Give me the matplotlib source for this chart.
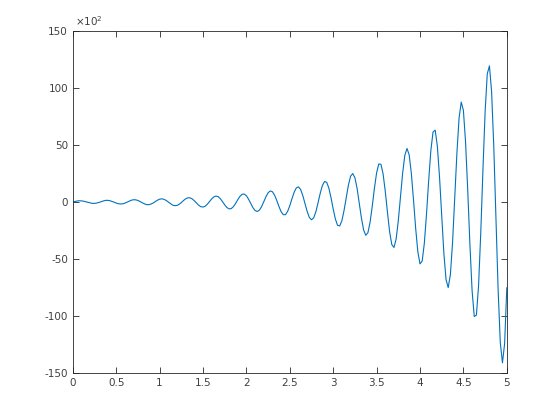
import numpy as np
import matplotlib
matplotlib.use('Agg')
import matplotlib.pyplot as plt

# Signal samples (y in units of 10^2), one every 0.025 in x
x_start, x_step = 0.0, 0.025
y_vals = [
    0.0, 0.5, 0.9, 1.1, 1.0, 0.7, 0.2, -0.4, -0.9, -1.2,
    -1.2, -0.9, -0.4, 0.3, 0.9, 1.4, 1.5, 1.2, 0.6, -0.1,
    -0.9, -1.5, -1.7, -1.6, -1.0, -0.1, 0.8, 1.6, 2.0, 1.9,
    1.4, 0.4, -0.6, -1.6, -2.3, -2.3, -1.8, -0.9, 0.4, 1.6,
    2.5, 2.8, 2.4, 1.4, 0.0, -1.5, -2.7, -3.2, -3.0, -2.0,
    -0.5, 1.3, 2.8, 3.7, 3.7, 2.8, 1.1, -0.9, -2.8, -4.1,
    -4.4, -3.7, -1.9, 0.4, 2.7, 4.5, 5.2, 4.7, 2.9, 0.3,
    -2.5, -4.8, -6.0, -5.8, -4.1, -1.3, 2.0, 4.9, 6.8, 7.0,
    5.5, 2.5, -1.2, -4.9, -7.5, -8.3, -7.1, -4.1, 0.2, 4.6,
    8.1, 9.7, 9.0, 6.0, 1.3, -3.9, -8.5, -11.1, -11.1, -8.2,
    -3.2, 2.9, 8.6, 12.4, 13.3, 10.9, 5.6, -1.3, -8.3, -13.5,
    -15.6, -13.9, -8.6, -0.8, 7.5, 14.4, 18.0, 17.3, 12.2, 3.7,
    -6.1, -14.9, -20.4, -21.0, -16.4, -7.4, 3.9, 14.8, 22.6, 25.0,
    21.3, 12.1, -0.7, -14.0, -24.4, -29.2, -26.9, -17.7, -3.6, 12.1,
    25.6, 33.4, 33.1, 24.5, 9.3, -9.0, -26.1, -37.3, -39.9, -32.5,
    -16.5, 4.4, 25.3, 40.9, 47.0, 41.5, 25.4, 2.0, -23.0, -43.6,
    -54.3, -51.8, -36.2, -10.6, 18.9, 45.2, 61.4, 63.1, 48.9, 21.8,
    -12.3, -45.0, -68.1, -75.1, -63.7, -35.6, 2.9, 42.6, 73.7, 87.7,
    80.4, 52.5, 10.1, -37.2, -77.6, -100.5, -99.2, -73.0, -27.0, 28.1,
    79.0, 112.5, 119.5, 96.8, 48.5, -14.4, -76.9, -123.4, -141.1, -124.2,
    -75.2,
]
x_vals = x_start + x_step * np.arange(len(y_vals))

x_ticks = [0, 0.5, 1, 1.5, 2, 2.5, 3, 3.5, 4, 4.5, 5]
x_tick_labels = ['0', '0.5', '1', '1.5', '2', '2.5', '3', '3.5', '4', '4.5', '5']
y_ticks = [-150, -100, -50, 0, 50, 100, 150]
y_tick_labels = ['-150', '-100', '-50', '0', '50', '100', '150']

fig = plt.figure(figsize=(5.6, 4.2), dpi=100)
ax = fig.add_axes([0.13, 0.112, 0.775, 0.814])

ax.plot(x_vals, y_vals, color='#0072BD', linewidth=0.8)

ax.set_xlim(0, 5)
ax.set_ylim(-150, 150)
ax.set_xticks(x_ticks)
ax.set_xticklabels(x_tick_labels)
ax.set_yticks(y_ticks)
ax.set_yticklabels(y_tick_labels)

# MATLAB-like box with inward ticks on all four sides
ax.tick_params(direction='in', length=4, width=0.6, color='#262626',
               labelcolor='#404040', labelsize=7.5,
               top=True, right=True)
for side in ax.spines.values():
    side.set_color('#262626')
    side.set_linewidth(0.6)

ax.text(0.005, 1.008, r'$\times10^{2}$', transform=ax.transAxes,
        fontsize=7.5, color='#404040', ha='left', va='bottom')

fig.savefig('out.png', dpi=100)
